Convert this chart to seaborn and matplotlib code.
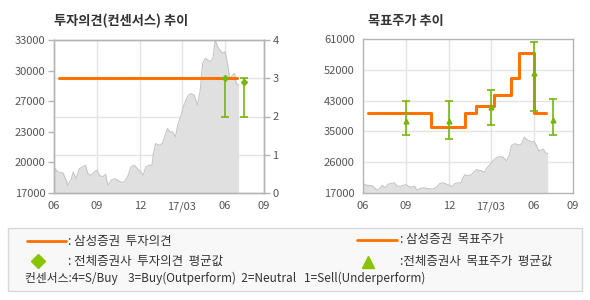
import matplotlib
matplotlib.use('Agg')
import matplotlib.pyplot as plt
import seaborn as sns
import pandas as pd
import numpy as np
from matplotlib.lines import Line2D
from matplotlib.patches import Rectangle

# ---------------- data ----------------
price_dates = ['2016-06-01', '2016-06-09', '2016-06-20', '2016-06-27', '2016-06-30', '2016-07-07',
               '2016-07-12', '2016-07-18', '2016-07-25', '2016-07-31', '2016-08-07', '2016-08-12',
               '2016-08-19', '2016-08-26', '2016-09-01', '2016-09-06', '2016-09-13', '2016-09-19',
               '2016-09-24', '2016-10-01', '2016-10-08', '2016-10-15', '2016-10-22', '2016-10-29',
               '2016-11-05', '2016-11-12', '2016-11-19', '2016-11-26', '2016-12-03', '2016-12-08',
               '2016-12-14', '2016-12-21', '2016-12-27', '2016-12-30', '2017-01-04', '2017-01-11',
               '2017-01-18', '2017-01-23', '2017-01-29', '2017-02-03', '2017-02-09', '2017-02-15',
               '2017-02-20', '2017-02-27', '2017-03-04', '2017-03-09', '2017-03-15', '2017-03-20',
               '2017-03-27', '2017-04-03', '2017-04-09', '2017-04-14', '2017-04-20', '2017-04-25',
               '2017-04-30', '2017-05-06', '2017-05-11', '2017-05-16', '2017-05-21', '2017-05-27',
               '2017-06-01', '2017-06-06', '2017-06-11', '2017-06-17', '2017-06-21', '2017-06-25',
               '2017-06-30']
price_values = [19700, 19200, 19100, 18330, 17800, 18330, 19200, 18500, 19550, 19700, 19900, 19030,
                18850, 19200, 19400, 18850, 18680, 18950, 17800, 18330, 18500, 18330, 18150, 18150,
                18680, 19730, 19900, 19550, 19200, 18850, 19730, 19900, 19900, 21100, 22170, 22000,
                22170, 22870, 23740, 23400, 23400, 22870, 24100, 25140, 26000, 26700, 27240, 27400,
                27240, 26190, 27760, 30550, 31080, 30900, 30730, 31080, 33000, 32300, 31950, 31600,
                31780, 30550, 29000, 29330, 29500, 28460, 28280]

opinion_dates = ['2016-06-11', '2017-06-27']
opinion_values = [3, 3]

cons_op_dates = ['2017-06-01', '2017-07-12']
cons_op_mean = [3.0, 2.9]
cons_op_low = [2, 2]
cons_op_high = [3, 3]

tp_dates = ['2016-06-11', '2016-10-24', '2017-01-04', '2017-01-28', '2017-03-08',
            '2017-04-12', '2017-04-30', '2017-06-01', '2017-06-26']
tp_values = [40000, 36000, 40000, 42000, 45000, 50000, 57000, 40000, 40000]

cons_tp_dates = ['2016-09-01', '2016-12-01', '2017-03-01', '2017-06-01', '2017-07-11']
cons_tp_mean = [37600, 37600, 41700, 51400, 37900]
cons_tp_low = [33500, 32400, 36400, 40400, 33500]
cons_tp_high = [43300, 43300, 46400, 60100, 43800]

x_tick_dates = ['2016-06-01', '2016-09-01', '2016-12-01', '2017-03-01', '2017-06-01', '2017-08-23']
x_tick_labels = ['06', '09', '12', '17/03', '06', '09']
left_ticks = [17000, 20200, 23400, 26600, 29800, 33000]
left_labels = ['17000', '20000', '23000', '27000', '30000', '33000']
right_ticks = [0, 1, 2, 3, 4]
tp_ticks = [17000, 25800, 34600, 43400, 52200, 61000]
tp_labels = ['17000', '26000', '35000', '43000', '52000', '61000']

title_left = '투자의견(컨센서스) 추이'
title_right = '목표주가 추이'

# ---------------- style ----------------
sns.set_style('white')
plt.rcParams['font.family'] = ['Noto Sans CJK KR', 'DejaVu Sans']

ORANGE = '#ff7200'
GREEN = '#78b50a'
LGREEN = '#88c400'
SPINE = '#b4b4b4'
GRID = '#e4e4e4'
FILL = '#e0e0e0'
FILL_EDGE = '#c6c6c6'
TXT = '#555555'

W, H = 590, 300
fig = plt.figure(figsize=(W / 100, H / 100), dpi=100)
fig.patch.set_facecolor('white')


def rect(x0, y0, x1, y1):
    return [x0 / W, 1 - y1 / H, (x1 - x0) / W, (y1 - y0) / H]


ax1 = fig.add_axes(rect(54, 40, 264, 193))
ax2 = fig.add_axes(rect(363, 39, 573, 193))

price_df = pd.DataFrame({'date': pd.to_datetime(price_dates), 'price': price_values})
xt = pd.to_datetime(x_tick_dates)


def style_axis(ax):
    for s in ax.spines.values():
        s.set_color(SPINE)
        s.set_linewidth(1)
    ax.tick_params(axis='both', direction='out', length=4, width=1, color=SPINE,
                   labelcolor=TXT, labelsize=8, pad=2)
    ax.set_xlabel('')
    ax.set_ylabel('')


def draw_price(ax, base):
    ax.fill_between(price_df['date'], price_df['price'], base, color=FILL, lw=0, zorder=1)
    sns.lineplot(data=price_df, x='date', y='price', ax=ax, color=FILL_EDGE, lw=0.8, zorder=2)


def xaxis(ax):
    ax.set_xlim(xt[0], xt[-1])
    ax.set_xticks(xt)
    ax.set_xticklabels(x_tick_labels)
    for d in xt[1:-1]:
        ax.axvline(d, color=GRID, lw=1, zorder=0.5)


# ---------- left chart ----------
ax1.set_ylim(17000, 33000)
for k in [1, 2, 3]:
    ax1.axhline(17000 + k * 4000, color=GRID, lw=1, zorder=0.5)
draw_price(ax1, 17000)
xaxis(ax1)
ax1.set_yticks(left_ticks)
ax1.set_yticklabels(left_labels)
style_axis(ax1)

ax1b = ax1.twinx()
ax1b.set_ylim(0, 4)
op_df = pd.DataFrame({'date': pd.to_datetime(opinion_dates), 'op': opinion_values})
sns.lineplot(data=op_df, x='date', y='op', ax=ax1b, color=ORANGE, lw=2.2, zorder=3)
cd = pd.to_datetime(cons_op_dates)
m = np.array(cons_op_mean)
ax1b.errorbar(cd, m, yerr=[m - np.array(cons_op_low), np.array(cons_op_high) - m],
              fmt='D', ms=3, color=GREEN, ecolor=GREEN, elinewidth=1.2, capsize=3, capthick=1.2, zorder=4)
ax1b.set_yticks(right_ticks)
ax1b.set_xlim(xt[0], xt[-1])
style_axis(ax1b)

# ---------- right chart ----------
ax2.set_ylim(17000, 61000)
for t in tp_ticks[1:-1]:
    ax2.axhline(t, color=GRID, lw=1, zorder=0.5)
draw_price(ax2, 17000)
xaxis(ax2)
tp_df = pd.DataFrame({'date': pd.to_datetime(tp_dates), 'tp': tp_values})
sns.lineplot(data=tp_df, x='date', y='tp', ax=ax2, color=ORANGE, lw=2.2,
             drawstyle='steps-post', zorder=3)
cd2 = pd.to_datetime(cons_tp_dates)
m2 = np.array(cons_tp_mean)
ax2.errorbar(cd2, m2, yerr=[m2 - np.array(cons_tp_low), np.array(cons_tp_high) - m2],
             fmt='^', ms=3.5, color=GREEN, ecolor=GREEN, elinewidth=1.2, capsize=3, capthick=1.2, zorder=4)
ax2.set_yticks(tp_ticks)
ax2.set_yticklabels(tp_labels)
ax2.set_xlim(xt[0], xt[-1])
style_axis(ax2)

# ---------- titles ----------
fig.text(54 / W, 1 - 21 / H, title_left, fontsize=9.5, fontweight='bold', color='#333333', va='center')
fig.text(368 / W, 1 - 21 / H, title_right, fontsize=9.5, fontweight='bold', color='#333333', va='center')

# ---------- legend box ----------
fig.add_artist(Rectangle((8 / W, 1 - 291 / H), 574 / W, 63 / H, transform=fig.transFigure,
                         facecolor='#f8f8f8', edgecolor='#d8d8d8', lw=1))


def fy(y):
    return 1 - y / H


fig.add_artist(Line2D([27 / W, 66 / W], [fy(241)] * 2, color=ORANGE, lw=2, transform=fig.transFigure))
fig.add_artist(Line2D([357 / W, 397 / W], [fy(240)] * 2, color=ORANGE, lw=2, transform=fig.transFigure))
fig.add_artist(Line2D([38 / W], [fy(261)], marker='D', ms=7, color=LGREEN, lw=0, transform=fig.transFigure))
fig.add_artist(Line2D([368 / W], [fy(262)], marker='^', ms=8, color=LGREEN, lw=0, transform=fig.transFigure))
lk = dict(fontsize=9, color='#333333', va='center')
fig.text(68 / W, fy(241), ': 삼성증권  투자의견', **lk)
fig.text(68 / W, fy(261), ': 전체증권사  투자의견  평균값', **lk)
fig.text(400 / W, fy(240), ': 삼성증권  목표주가', **lk)
fig.text(400 / W, fy(261), ':전체증권사  목표주가  평균값', **lk)
fig.text(25 / W, fy(278), '컨센서스:4=S/Buy    3=Buy(Outperform)  2=Neutral   1=Sell(Underperform)',
         fontsize=8.5, color='#333333', va='center')

fig.savefig('out.png', dpi=100)
